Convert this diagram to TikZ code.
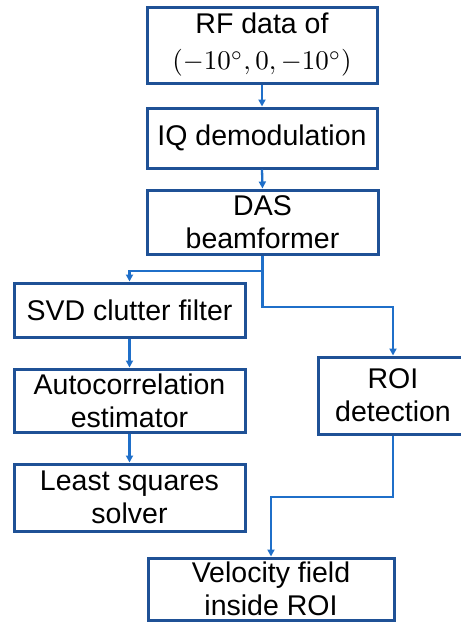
\documentclass[tikz,border=0pt]{standalone}
\usepackage{fontspec}
\setmainfont{Liberation Sans}
\usetikzlibrary{arrows.meta}
\definecolor{boxblue}{HTML}{1F5196}
\definecolor{arrblue}{HTML}{1F6FC9}
\newcommand{\anglemath}{\scalebox{2.7}{\fontsize{10}{12}\selectfont$(-10^\circ,0,-10^\circ)$}}
\tikzset{
  stepbox/.style={draw=boxblue, line width=3pt, fill=white, inner sep=0pt, align=center,
    font=\fontsize{28.5}{33}\selectfont},
  arr/.style={draw=arrblue, line width=2.3pt, -{Triangle[length=7pt,width=7pt]}},
  link/.style={draw=arrblue, line width=2.3pt}
}
\begin{document}
\begin{tikzpicture}[x=1pt,y=-1pt]
\useasboundingbox[fill=white] (0,0) rectangle (461,622);
\node[stepbox, minimum width=230pt, minimum height=76pt] (rf) at (262,45)
  {RF data of\\[3pt] \anglemath};
\node[stepbox, minimum width=230pt, minimum height=60pt] (iq) at (262,138) {IQ demodulation};
\node[stepbox, minimum width=231pt, minimum height=64pt] (das) at (262.5,222) {DAS\\beamformer};
\node[stepbox, minimum width=231pt, minimum height=54pt] (svd) at (129.5,310) {SVD clutter filter};
\node[stepbox, minimum width=231pt, minimum height=63pt] (auto) at (129.5,400.5) {Autocorrelation\\estimator};
\node[stepbox, minimum width=231pt, minimum height=67pt] (ls) at (129.5,497.5) {Least squares\\solver};
\node[stepbox, minimum width=150pt, minimum height=77pt] (roi) at (393,395.5) {ROI\\detection};
\node[stepbox, minimum width=246pt, minimum height=62pt] (vel) at (271,589) {Velocity field\\inside ROI};
\coordinate (split) at (262.5,271);
\coordinate (bendA) at (262.5,307);
\coordinate (bendB) at (393,497);
\draw[arr] (rf.south) -- (iq.north);
\draw[arr] (iq.south) -- (das.north);
\draw[link] (das.south) -- (split);
\draw[arr] (split) -| (svd.north);
\draw[arr] (split) -- (bendA) -| (roi.north);
\draw[arr] (svd.south) -- (auto.north);
\draw[arr] (auto.south) -- (ls.north);
\draw[arr] (roi.south) -- (bendB) -| (vel.north);
\end{tikzpicture}
\end{document}
